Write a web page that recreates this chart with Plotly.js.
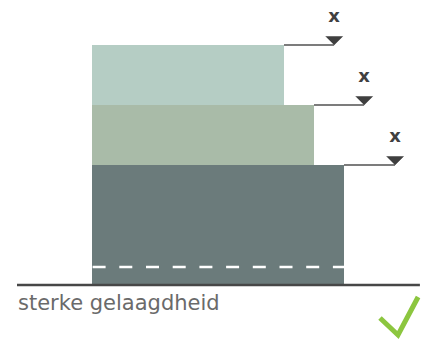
<!DOCTYPE html>
<html>
<head>
<meta charset="utf-8">
<script src="https://cdn.plot.ly/plotly-3.0.1.min.js"></script>
<style>html,body{margin:0;padding:0;background:#fff;}#chart{width:433px;height:342px;}</style>
</head>
<body>
<div id="chart"></div>
<script>
// Layers (bottom -> top)
const layerNames = ['onder', 'midden', 'boven'];
const layerBottom = [0, 2, 3];
const layerTop = [2, 3, 4];
const layerLength = [8.4, 7.4, 6.4];
const layerColors = ['#6b7b7b', '#a9bba8', '#b5cdc4'];
// water level markers per layer
const markerX = [10.1, 9.07, 8.07];
const markerLabels = ['x', 'x', 'x'];
// dashed line inside bottom layer
const dashY = [0.3, 0.3];
const dashX = [0.02, 8.4];
// ground line
const groundX = [-2.5, 10.93];
const groundY = [0, 0];
const caption = 'sterke gelaagdheid';

const W = 433, H = 342;
const xRange = [-92 / 30, (W - 92) / 30];
const yRange = [-(H - 285) / 60, 285 / 60];
const pxX = 1 / 30, pxY = 1 / 60;

const traces = [];
traces.push({
  type: 'bar', orientation: 'h',
  y: layerBottom.map((b, i) => (b + layerTop[i]) / 2),
  width: layerBottom.map((b, i) => layerTop[i] - b),
  x: layerLength, base: 0,
  marker: {color: layerColors, line: {width: 0}},
  text: layerNames, textposition: 'none', hoverinfo: 'none', showlegend: false
});
traces.push({
  type: 'scatter', mode: 'lines', x: dashX, y: dashY,
  line: {color: '#ffffff', width: 2.5, dash: '13px,13.7px'}, hoverinfo: 'none', showlegend: false
});
for (let i = 0; i < layerTop.length; i++) {
  traces.push({
    type: 'scatter', mode: 'lines', x: [layerLength[i], markerX[i]], y: [layerTop[i], layerTop[i]],
    line: {color: '#505050', width: 1.4}, hoverinfo: 'none', showlegend: false
  });
  traces.push({
    type: 'scatter', mode: 'lines', fill: 'toself', fillcolor: '#3f3f3f',
    x: [markerX[i] - 8.5 * pxX, markerX[i] + 8.5 * pxX, markerX[i]],
    y: [layerTop[i] + 8.5 * pxY, layerTop[i] + 8.5 * pxY, layerTop[i]],
    line: {color: '#3f3f3f', width: 0.5}, hoverinfo: 'none', showlegend: false
  });
}
traces.push({
  type: 'scatter', mode: 'text', x: markerX, y: layerTop.map(t => t + 28 * pxY),
  text: markerLabels, textposition: 'middle center',
  textfont: {family: 'DejaVu Sans', size: 18, color: '#404040', weight: 'bold'},
  hoverinfo: 'none', showlegend: false
});
traces.push({
  type: 'scatter', mode: 'lines', x: groundX, y: groundY,
  line: {color: '#474747', width: 2.5}, hoverinfo: 'none', showlegend: false
});
// check mark
traces.push({
  type: 'scatter', mode: 'lines',
  x: [9.6, 10.2, 10.87], y: [-0.55, -0.833, -0.2],
  line: {color: '#8cc63f', width: 5}, hoverinfo: 'none', showlegend: false
});

const layout = {
  width: W, height: H,
  margin: {l: 0, r: 0, t: 0, b: 0},
  paper_bgcolor: '#ffffff', plot_bgcolor: '#ffffff',
  bargap: 0,
  xaxis: {range: xRange, visible: false, fixedrange: true},
  yaxis: {range: yRange, visible: false, fixedrange: true},
  annotations: [{
    x: -2.55, y: -0.3, xref: 'x', yref: 'y', text: caption, showarrow: false,
    xanchor: 'left', yanchor: 'middle',
    font: {family: 'DejaVu Sans', size: 21, color: '#6a6a6a'}
  }]
};
Plotly.newPlot('chart', traces, layout, {displayModeBar: false, staticPlot: true});
</script>
</body>
</html>
